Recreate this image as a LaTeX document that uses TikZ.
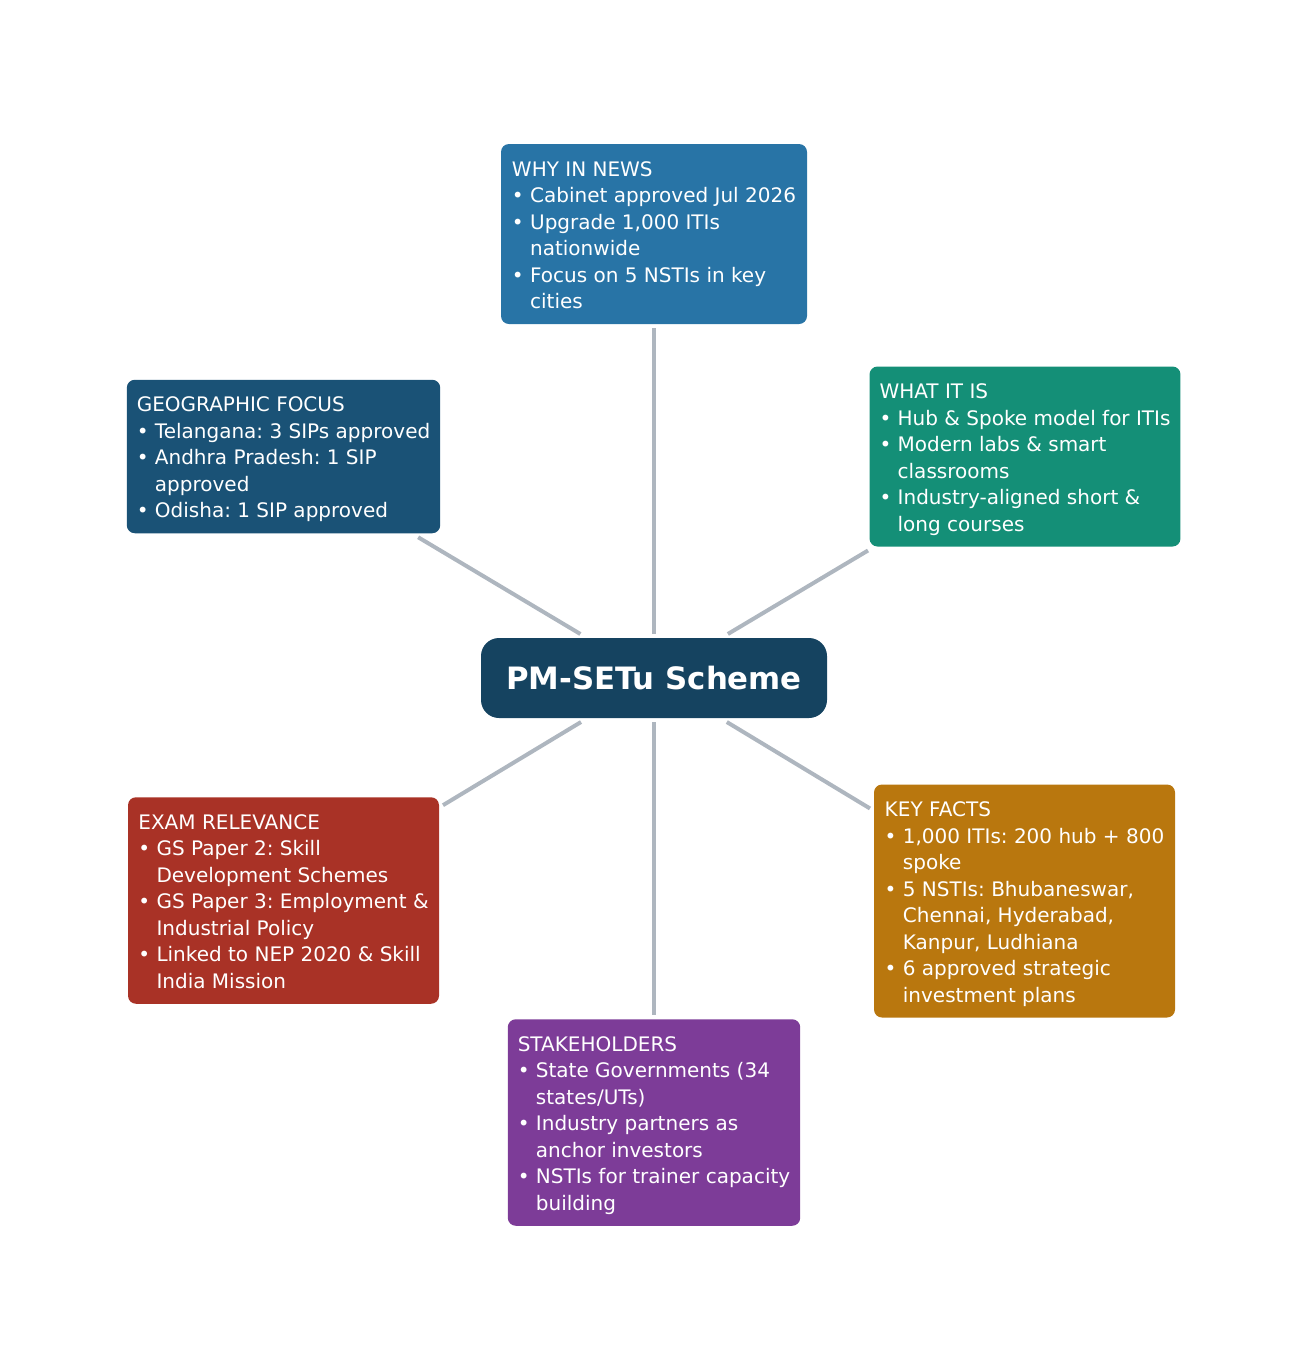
\documentclass[tikz,border=0pt]{standalone}
\usepackage{fontspec}
\setmainfont{DejaVu Sans}
\frenchspacing
\usetikzlibrary{positioning}
\definecolor{newsF}{HTML}{2874A6}
\definecolor{whatF}{HTML}{148F77}
\definecolor{geoF}{HTML}{1A5276}
\definecolor{hubF}{HTML}{154360}
\definecolor{examF}{HTML}{A93226}
\definecolor{factF}{HTML}{B9770E}
\definecolor{stakeF}{HTML}{7D3C98}
\definecolor{linkB}{HTML}{AEB6BF}
\newcommand{\ind}{\phantom{•\ }}
\newcommand{\topstrut}{\rule{0pt}{21.5pt}}
\newcommand{\botstrut}{\rule[-5pt]{0pt}{5pt}}
\tikzset{
 box/.style={rounded corners=8pt, align=left, text=white, inner xsep=10pt, inner ysep=10.5pt,
             outer sep=4pt, font=\fontsize{20}{26.5}\selectfont},
 hub/.style={rounded corners=18pt, align=center, text=white, fill=hubF, outer sep=4pt,
             minimum width=346pt, minimum height=80pt, font=\bfseries\fontsize{30.8}{36}\selectfont},
 lin/.style={line width=4pt, draw=linkB},
}
\begin{document}
\begin{tikzpicture}[x=1pt, y=-1pt]
\useasboundingbox (0,0) rectangle (1308,1358);
% centre
\node[hub] (scheme) at (654,678) {PM-SETu Scheme};
% branches
\node[box, fill=newsF, minimum width=306pt] (news) at (654,234)
 {\topstrut WHY IN NEWS\\ • Cabinet approved Jul 2026\\ • Upgrade 1,000 ITIs\\ \ind nationwide\\
  • Focus on 5 NSTIs in key\\ \ind cities\botstrut};
\node[box, fill=whatF, minimum width=310pt] (what) at (1025,456.5)
 {\topstrut WHAT IT IS\\ • Hub \& Spoke model for ITIs\\ • Modern labs \& smart\\ \ind classrooms\\
  • Industry-aligned short \&\\ \ind long courses\botstrut};
\node[box, fill=geoF, minimum width=313pt] (geo) at (283.5,456.5)
 {\topstrut GEOGRAPHIC FOCUS\\ • Telangana: 3 SIPs approved\\ • Andhra Pradesh: 1 SIP\\ \ind approved\\
  • Odisha: 1 SIP approved\botstrut};
\node[box, fill=examF, minimum width=311pt] (exam) at (283.5,900.5)
 {\topstrut EXAM RELEVANCE\\ • GS Paper 2: Skill\\ \ind Development Schemes\\ • GS Paper 3: Employment \&\\
  \ind Industrial Policy\\ • Linked to NEP 2020 \& Skill\\ \ind India Mission\botstrut};
\node[box, fill=factF, minimum width=301pt] (facts) at (1024.5,901)
 {\topstrut KEY FACTS\\ • 1,000 ITIs: 200 hub + 800\\ \ind spoke\\ • 5 NSTIs: Bhubaneswar,\\
  \ind Chennai, Hyderabad,\\ \ind Kanpur, Ludhiana\\ • 6 approved strategic\\ \ind investment plans\botstrut};
\node[box, fill=stakeF, minimum width=292pt] (stake) at (654,1122.5)
 {\topstrut STAKEHOLDERS\\ • State Governments (34\\ \ind states/UTs)\\ • Industry partners as\\
  \ind anchor investors\\ • NSTIs for trainer capacity\\ \ind building\botstrut};
% links
\draw[lin] (scheme) -- (news);
\draw[lin] (scheme) -- (what);
\draw[lin] (scheme) -- (geo);
\draw[lin] (scheme) -- (exam);
\draw[lin] (scheme) -- (facts);
\draw[lin] (scheme) -- (stake);
\end{tikzpicture}
\end{document}
